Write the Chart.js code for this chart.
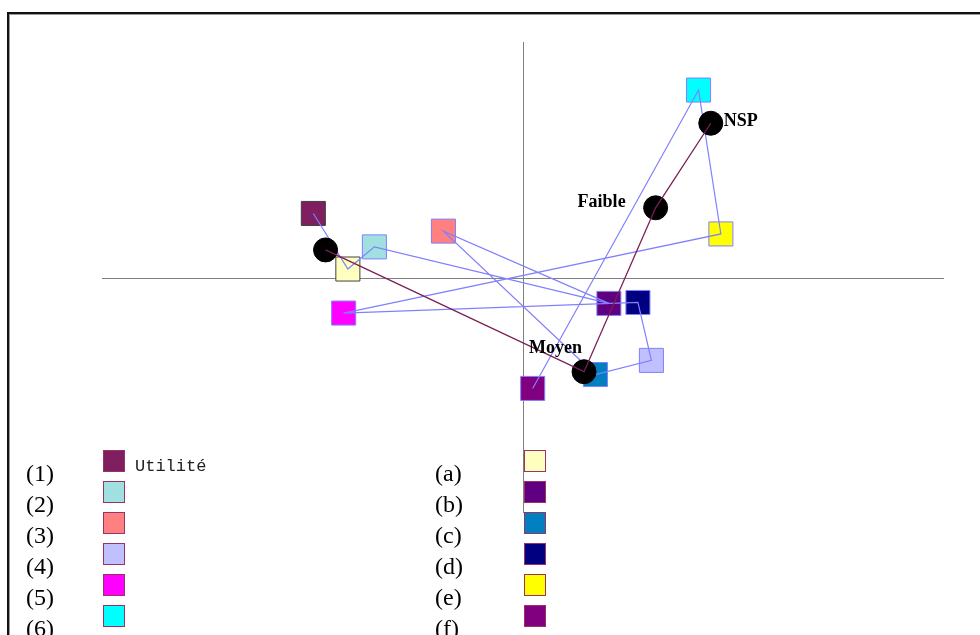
<!DOCTYPE html>
<html>
<head>
<meta charset="utf-8">
<script src="https://cdn.jsdelivr.net/npm/chart.js@4.4.1/dist/chart.umd.min.js"></script>
<style>
    body { margin: 0; background: #fff; overflow: hidden; }
    #cadre { position: absolute; left: 7px; top: 12px; width: 1100px; height: 800px; border-top: 2px solid #111; border-left: 2px solid #111; box-shadow: inset 1px 1px 0 #999; }
    #graphique { position: absolute; left: 0; top: 0; }
</style>
</head>
<body>
<div id="cadre"></div>
<canvas id="graphique" width="980" height="635"></canvas>
<script>
// modalites en ligne (1)..(6)
var modalitesLignes = ['(1)', '(2)', '(3)', '(4)', '(5)', '(6)'];
var xLignes = [-0.498, -0.353, -0.189, 0.305, -0.426, 0.417];
var yLignes = [0.272, 0.130, 0.197, -0.352, -0.151, 0.796];

// modalites en colonne (a)..(f)
var modalitesColonnes = ['(a)', '(b)', '(c)', '(d)', '(e)', '(f)'];
var xColonnes = [-0.416, 0.204, 0.172, 0.273, 0.470, 0.023];
var yColonnes = [0.036, -0.110, -0.412, -0.106, 0.185, -0.471];

// variable Utilité
var modalitesUtilite = ['', 'Moyen', 'Faible', 'NSP'];
var xUtilite = [-0.469, 0.145, 0.315, 0.446];
var yUtilite = [0.117, -0.400, 0.296, 0.655];

var legendeTextes = ['Utilité', '', '', '', '', ''];

var couleursLignes = ['#7f1f5f', '#a0e0e0', '#ff8080', '#c0c0ff', '#ff00ff', '#00ffff'];
var couleursColonnes = ['#ffffc0', '#600080', '#0080c0', '#000080', '#ffff00', '#800080'];

// chemin 1,a,2,b,3,c...
var carres = [];
var fondCarres = [];
var bordCarres = [];
for (var i = 0; i < modalitesLignes.length; i++) {
    carres.push({x: xLignes[i], y: yLignes[i]});
    fondCarres.push(couleursLignes[i]);
    bordCarres.push(i == 0 ? '#404040' : '#8080ff');
    carres.push({x: xColonnes[i], y: yColonnes[i]});
    fondCarres.push(couleursColonnes[i]);
    bordCarres.push(i == 0 ? '#404040' : '#8080ff');
}

var pointsUtilite = [];
for (var j = 0; j < xUtilite.length; j++) {
    pointsUtilite.push({x: xUtilite[j], y: yUtilite[j]});
}

// decalages des etiquettes (dx, dy, alignement)
var placement = [[0, 0, 'left'], [-2, -19, 'right'], [-30, -1, 'right'], [13, 3, 'left']];

var axesCroix = {
    id: 'axesCroix',
    beforeDatasetsDraw: function (chart) {
        var ctx = chart.ctx;
        var a = chart.chartArea;
        var x0 = Math.round(chart.scales.x.getPixelForValue(0)) + 0.5;
        var y0 = Math.round(chart.scales.y.getPixelForValue(0)) + 0.5;
        ctx.save();
        ctx.strokeStyle = '#808080';
        ctx.lineWidth = 1;
        ctx.beginPath();
        ctx.moveTo(a.left, y0);
        ctx.lineTo(a.right, y0);
        ctx.moveTo(x0, a.top);
        ctx.lineTo(x0, a.bottom);
        ctx.stroke();
        ctx.restore();
    }
};

var etiquettes = {
    id: 'etiquettes',
    afterDatasetsDraw: function (chart) {
        var ctx = chart.ctx;
        var meta = chart.getDatasetMeta(1);
        ctx.save();
        ctx.font = 'bold 18px "Liberation Serif", serif';
        ctx.fillStyle = '#000';
        ctx.textBaseline = 'alphabetic';
        for (var k = 0; k < modalitesUtilite.length; k++) {
            if (!modalitesUtilite[k]) continue;
            var p = meta.data[k];
            ctx.textAlign = placement[k][2];
            ctx.fillText(modalitesUtilite[k], p.x + placement[k][0], p.y + placement[k][1]);
        }
        ctx.restore();
    },
    afterDraw: function (chart) {
        var ctx = chart.ctx;
        ctx.save();
        ctx.textBaseline = 'alphabetic';
        ctx.textAlign = 'left';
        for (var k = 0; k < modalitesLignes.length; k++) {
            var yy = 450 + 31 * k;
            ctx.font = '24px "Liberation Serif", serif';
            ctx.fillStyle = '#000';
            ctx.fillText(modalitesLignes[k], 26, yy + 31);
            ctx.fillText(modalitesColonnes[k], 435, yy + 31);

            ctx.fillStyle = couleursLignes[k];
            ctx.fillRect(103, yy, 22, 22);
            ctx.strokeStyle = '#993366';
            ctx.strokeRect(103.5, yy + 0.5, 21, 21);

            ctx.fillStyle = couleursColonnes[k];
            ctx.fillRect(524, yy, 22, 22);
            ctx.strokeRect(524.5, yy + 0.5, 21, 21);

            if (legendeTextes[k]) {
                ctx.font = '17px "Liberation Mono", monospace';
                ctx.fillStyle = '#222';
                ctx.fillText(legendeTextes[k], 135, yy + 21);
            }
        }
        ctx.restore();
    }
};

var chart = new Chart(document.getElementById('graphique'), {
    type: 'scatter',
    data: {
        datasets: [{
            // ligne Utilité
            data: pointsUtilite,
            showLine: true,
            borderColor: '#7a1f55',
            borderWidth: 1.3,
            pointRadius: 0
        }, {
            data: pointsUtilite,
            pointStyle: 'circle',
            pointRadius: 12,
            pointBackgroundColor: '#000',
            pointBorderColor: '#000',
            showLine: false
        }, {
            data: carres,
            showLine: true,
            borderColor: '#8080ff',
            borderWidth: 1.2,
            pointRadius: 0
        }, {
            data: carres,
            pointStyle: 'rect',
            pointRadius: 17,
            pointBackgroundColor: fondCarres,
            pointBorderColor: bordCarres,
            pointBorderWidth: 1,
            showLine: false
        }]
    },
    options: {
        responsive: false,
        animation: false,
        layout: {padding: {left: 102, right: 36, top: 42, bottom: 122}},
        plugins: {legend: {display: false}, tooltip: {enabled: false}},
        scales: {
            x: {type: 'linear', min: -1, max: 1, display: false},
            y: {type: 'linear', min: -1, max: 1, display: false}
        }
    },
    plugins: [axesCroix, etiquettes]
});
</script>
</body>
</html>
